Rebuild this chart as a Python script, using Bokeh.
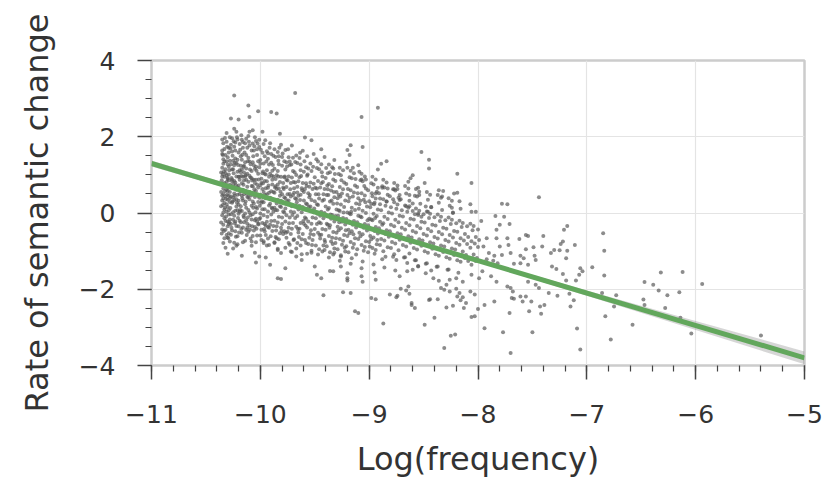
from bokeh.plotting import figure
from bokeh.models import SingleIntervalTicker, CustomJSTickFormatter
from bokeh.embed import file_html
from bokeh.resources import INLINE

# ---- data: (log frequency, rate of semantic change) ----
core_01 = [(-10.35,1.64),(-10.34,1.41),(-10.35,1.19),(-10.33,0.95),(-10.35,0.77),(-10.34,0.49),(-10.35,0.33),(-10.33,0.09),(-10.35,-0.06),(-10.34,-0.31),(-10.35,-0.43),(-10.33,-0.66),
           (-10.34,1.83),(-10.32,1.52),(-10.31,1.36),(-10.32,1.05),(-10.30,0.89),(-10.31,0.61),(-10.32,0.44),(-10.30,0.16),(-10.31,0.03),(-10.32,-0.21),(-10.30,-0.35),(-10.31,-0.58),
           (-10.29,1.71),(-10.28,1.37),(-10.29,1.21),(-10.30,0.92),(-10.28,0.74),(-10.29,0.45),(-10.28,0.29),(-10.29,0.07),(-10.28,-0.17),(-10.29,-0.29),(-10.28,-0.75),
           (-10.36,1.06),(-10.36,0.55),(-10.36,0.18),(-10.36,-0.25),(-10.35,1.93),(-10.33,1.68),(-10.34,1.29),(-10.33,0.79),(-10.34,0.38),(-10.33,-0.14),(-10.32,-0.91),(-10.31,1.87),
           (-10.30,1.46),(-10.31,0.99),(-10.30,0.58),(-10.31,0.23),(-10.30,-0.22),(-10.29,0.86),(-10.28,1.99),(-10.29,1.59),(-10.28,0.55),(-10.29,-0.04),(-10.28,0.39),(-10.29,-0.53),
           (-10.35,0.96),(-10.34,0.64),(-10.35,0.46),(-10.34,0.01),(-10.33,1.35),(-10.32,1.15),(-10.33,0.26),(-10.32,-0.44),(-10.35,1.55),(-10.32,0.72),(-10.30,1.27),(-10.31,0.81),
           (-10.29,1.01),(-10.30,0.35),(-10.34,-0.79),(-10.30,-0.64)]
core_02 = [(-10.27,1.79),(-10.26,1.61),(-10.27,1.28),(-10.25,1.15),(-10.26,0.88),(-10.27,0.69),(-10.25,0.41),(-10.26,0.27),(-10.27,-0.03),(-10.25,-0.18),(-10.26,-0.46),(-10.27,-0.57),
           (-10.24,1.74),(-10.23,1.43),(-10.24,1.25),(-10.22,0.96),(-10.23,0.80),(-10.24,0.51),(-10.22,0.36),(-10.23,0.06),(-10.24,-0.07),(-10.22,-0.34),(-10.23,-0.48),(-10.24,-0.78),
           (-10.21,1.93),(-10.20,1.59),(-10.21,1.40),(-10.19,1.12),(-10.20,0.95),(-10.21,0.67),(-10.19,0.50),(-10.20,0.22),(-10.21,0.07),(-10.19,-0.20),(-10.20,-0.35),(-10.21,-0.61),
           (-10.18,1.49),(-10.18,1.07),(-10.18,0.58),(-10.18,0.18),(-10.18,-0.24),(-10.26,1.96),(-10.25,1.37),(-10.26,0.83),(-10.25,0.02),(-10.27,-0.29),(-10.23,1.85),(-10.22,1.31),
           (-10.24,0.84),(-10.22,0.61),(-10.23,-0.22),(-10.21,1.08),(-10.20,0.32),(-10.19,1.81),(-10.20,-0.02),(-10.21,-0.82),(-10.19,0.87),(-10.25,0.75),(-10.27,0.43),(-10.22,0.17),
           (-10.18,1.24),(-10.26,1.14),(-10.24,0.34),(-10.20,0.72),(-10.25,-0.93),(-10.19,0.03),(-10.23,1.64),(-10.21,0.48)]
core_03 = [(-10.17,1.92),(-10.16,1.71),(-10.17,1.40),(-10.15,1.24),(-10.16,0.95),(-10.17,0.78),(-10.15,0.49),(-10.16,0.33),(-10.17,0.05),(-10.15,-0.11),(-10.16,-0.38),(-10.17,-0.52),
           (-10.14,1.83),(-10.13,1.52),(-10.14,1.33),(-10.12,1.03),(-10.13,0.87),(-10.14,0.58),(-10.12,0.42),(-10.13,0.14),(-10.14,-0.01),(-10.12,-0.28),(-10.13,-0.44),(-10.14,-0.73),
           (-10.11,2.02),(-10.10,1.77),(-10.11,1.45),(-10.09,1.28),(-10.10,0.98),(-10.11,0.82),(-10.09,0.53),(-10.10,0.36),(-10.11,0.08),(-10.09,-0.06),(-10.10,-0.33),(-10.11,-0.49),
           (-10.08,1.64),(-10.08,1.10),(-10.08,0.71),(-10.08,0.19),(-10.08,-0.17),(-10.16,1.86),(-10.15,1.06),(-10.17,0.45),(-10.15,-0.24),(-10.13,1.95),(-10.12,0.69),(-10.14,0.96),
           (-10.13,-0.19),(-10.10,1.35),(-10.09,0.93),(-10.11,0.42),(-10.10,0.01),(-10.16,0.61),(-10.14,0.23),(-10.12,1.71),(-10.09,-0.67),(-10.16,-0.77),(-10.15,0.85),(-10.10,0.55),
           (-10.13,1.17),(-10.08,0.91),(-10.17,1.14),(-10.12,-0.39)]
core_04 = [(-10.07,1.82),(-10.06,1.64),(-10.07,1.33),(-10.05,1.16),(-10.06,0.87),(-10.07,0.70),(-10.05,0.42),(-10.06,0.25),(-10.07,-0.03),(-10.05,-0.19),(-10.06,-0.46),(-10.07,-0.60),
           (-10.04,1.89),(-10.03,1.52),(-10.04,1.21),(-10.02,1.03),(-10.03,0.75),(-10.04,0.58),(-10.02,0.29),(-10.03,0.12),(-10.04,-0.15),(-10.02,-0.30),(-10.03,-0.59),(-10.04,-0.77),
           (-10.01,1.73),(-10.00,1.39),(-10.01,1.20),(-9.99,0.90),(-10.00,0.73),(-10.01,0.44),(-9.99,0.27),(-10.00,-0.01),(-10.01,-0.16),(-9.99,-0.44),(-10.00,-0.59),
           (-9.98,1.58),(-9.98,1.04),(-9.98,0.63),(-9.98,0.10),(-9.98,-0.26),(-10.06,1.25),(-10.05,0.79),(-10.07,0.30),(-10.05,-0.37),(-10.03,1.67),(-10.02,0.67),(-10.04,0.87),
           (-10.03,-0.22),(-10.00,1.29),(-9.99,0.79),(-10.01,0.40),(-10.00,-0.13),(-10.06,0.54),(-10.02,1.36),(-9.99,-0.71),(-10.05,1.99),(-10.01,1.92),(-10.04,0.16),(-10.00,0.48)]
core_05 = [(-9.97,1.81),(-9.96,1.49),(-9.97,1.30),(-9.95,1.01),(-9.96,0.84),(-9.97,0.55),(-9.95,0.39),(-9.96,0.10),(-9.97,-0.06),(-9.95,-0.33),(-9.96,-0.48),(-9.97,-0.74),
           (-9.94,1.62),(-9.93,1.42),(-9.94,1.12),(-9.92,0.95),(-9.93,0.66),(-9.94,0.49),(-9.92,0.20),(-9.93,0.04),(-9.94,-0.23),(-9.92,-0.39),(-9.93,-0.67),(-9.94,-0.85),
           (-9.91,1.83),(-9.90,1.32),(-9.91,1.03),(-9.89,0.87),(-9.90,0.57),(-9.91,0.40),(-9.89,0.12),(-9.90,-0.04),(-9.91,-0.31),(-9.89,-0.47),
           (-9.88,1.50),(-9.88,0.96),(-9.88,0.55),(-9.88,0.03),(-9.88,-0.34),(-9.96,1.03),(-9.95,0.65),(-9.97,0.28),(-9.95,-0.58),(-9.93,1.57),(-9.92,0.53),(-9.94,0.83),
           (-9.93,-0.37),(-9.90,1.55),(-9.89,0.75),(-9.91,0.24),(-9.90,-0.21),(-9.92,1.27),(-9.96,-0.29),(-9.89,1.11)]
core_06 = [(-9.87,1.67),(-9.86,1.47),(-9.87,1.16),(-9.85,0.99),(-9.86,0.70),(-9.87,0.53),(-9.85,0.25),(-9.86,0.08),(-9.87,-0.20),(-9.85,-0.35),(-9.86,-0.63),(-9.87,-0.77),
           (-9.84,1.60),(-9.83,1.28),(-9.84,1.10),(-9.82,0.81),(-9.83,0.64),(-9.84,0.35),(-9.82,0.18),(-9.83,-0.10),(-9.84,-0.25),(-9.82,-0.53),(-9.83,-0.69),(-9.84,-0.94),
           (-9.81,1.79),(-9.80,1.24),(-9.81,0.95),(-9.79,0.79),(-9.80,0.49),(-9.81,0.32),(-9.79,0.04),(-9.80,-0.12),(-9.81,-0.39),(-9.79,-0.55),
           (-9.78,1.36),(-9.78,0.94),(-9.78,0.41),(-9.78,0.01),(-9.78,-0.48),(-9.86,0.89),(-9.85,0.63),(-9.87,0.14),(-9.85,-0.66),(-9.83,1.49),(-9.82,0.45),(-9.84,0.75),
           (-9.80,1.47),(-9.79,0.67),(-9.81,0.16),(-9.80,-0.29)]
core_07 = [(-9.77,1.65),(-9.76,1.33),(-9.77,1.14),(-9.75,0.85),(-9.76,0.68),(-9.77,0.39),(-9.75,0.23),(-9.76,-0.06),(-9.77,-0.22),(-9.75,-0.49),(-9.76,-0.65),(-9.77,-0.91),
           (-9.74,1.46),(-9.73,1.26),(-9.74,0.96),(-9.72,0.79),(-9.73,0.50),(-9.74,0.33),(-9.72,0.04),(-9.73,-0.12),(-9.74,-0.39),(-9.72,-0.55),(-9.73,-0.83),
           (-9.71,1.77),(-9.70,1.10),(-9.71,0.93),(-9.69,0.65),(-9.70,0.47),(-9.71,0.18),(-9.69,0.02),(-9.70,-0.26),(-9.71,-0.41),(-9.69,-0.69),
           (-9.68,1.34),(-9.68,0.80),(-9.68,0.39),(-9.68,-0.13),(-9.76,0.87),(-9.75,0.49),(-9.77,0.12),(-9.73,1.35),(-9.72,0.43),(-9.70,1.45),(-9.69,0.53),(-9.71,-1.02)]
core_08 = [(-9.67,1.51),(-9.66,1.31),(-9.67,1.00),(-9.65,0.83),(-9.66,0.54),(-9.67,0.37),(-9.65,0.09),(-9.66,-0.08),(-9.67,-0.36),(-9.65,-0.51),(-9.66,-0.79),(-9.67,-0.93),
           (-9.64,1.44),(-9.63,1.12),(-9.64,0.94),(-9.62,0.65),(-9.63,0.48),(-9.64,0.19),(-9.62,0.02),(-9.63,-0.26),(-9.64,-0.41),(-9.62,-0.69),(-9.63,-0.85),
           (-9.61,1.63),(-9.60,1.08),(-9.61,0.79),(-9.59,0.63),(-9.60,0.33),(-9.61,0.16),(-9.59,-0.12),(-9.60,-0.28),(-9.61,-0.55),(-9.59,-0.71),
           (-9.58,1.20),(-9.58,0.78),(-9.58,0.25),(-9.58,-0.15),(-9.66,0.69),(-9.65,0.45),(-9.63,1.27),(-9.60,0.55),(-9.62,-1.08)]
core_09 = [(-9.57,1.49),(-9.56,1.17),(-9.57,0.98),(-9.55,0.69),(-9.56,0.52),(-9.57,0.23),(-9.55,0.07),(-9.56,-0.22),(-9.57,-0.38),(-9.55,-0.65),(-9.56,-0.81),(-9.57,-1.07),
           (-9.54,1.30),(-9.53,1.10),(-9.54,0.80),(-9.52,0.63),(-9.53,0.34),(-9.54,0.17),(-9.52,-0.12),(-9.53,-0.28),(-9.54,-0.55),(-9.52,-0.71),(-9.53,-0.99),
           (-9.51,1.55),(-9.50,0.94),(-9.51,0.77),(-9.49,0.49),(-9.50,0.31),(-9.51,0.02),(-9.49,-0.14),(-9.50,-0.42),(-9.51,-0.57),(-9.49,-0.85),
           (-9.48,1.18),(-9.48,0.64),(-9.48,0.23),(-9.48,-0.29),(-9.55,0.41)]
core_10 = [(-9.47,1.35),(-9.46,1.15),(-9.47,0.84),(-9.45,0.67),(-9.46,0.38),(-9.47,0.21),(-9.45,-0.07),(-9.46,-0.24),(-9.47,-0.52),(-9.45,-0.67),(-9.46,-0.95),(-9.47,-1.09),
           (-9.44,1.28),(-9.43,0.96),(-9.44,0.78),(-9.42,0.49),(-9.43,0.32),(-9.44,0.03),(-9.42,-0.14),(-9.43,-0.42),(-9.44,-0.57),(-9.42,-0.85),(-9.43,-1.01),
           (-9.41,1.47),(-9.40,0.92),(-9.41,0.63),(-9.39,0.47),(-9.40,0.17),(-9.41,0.00),(-9.39,-0.28),(-9.40,-0.44),(-9.41,-0.71),(-9.39,-0.87),
           (-9.38,1.04),(-9.38,0.62),(-9.38,0.09),(-9.38,-0.31)]
core_11 = [(-9.37,1.27),(-9.36,1.07),(-9.37,0.76),(-9.35,0.59),(-9.36,0.30),(-9.37,0.13),(-9.35,-0.15),(-9.36,-0.32),(-9.37,-0.60),(-9.35,-0.75),(-9.36,-1.03),(-9.37,-1.17),
           (-9.34,1.20),(-9.33,0.88),(-9.34,0.70),(-9.32,0.41),(-9.33,0.24),(-9.34,-0.05),(-9.32,-0.22),(-9.33,-0.50),(-9.34,-0.65),(-9.32,-0.93),(-9.33,-1.09),
           (-9.31,0.84),(-9.30,0.55),(-9.29,0.39),(-9.30,0.09),(-9.31,-0.08),(-9.29,-0.36),(-9.30,-0.52),(-9.31,-0.79),(-9.29,-0.95),
           (-9.28,1.02),(-9.28,0.48),(-9.28,0.07),(-9.28,-0.45)]
core_12 = [(-9.27,1.19),(-9.26,0.99),(-9.27,0.68),(-9.25,0.51),(-9.26,0.22),(-9.27,0.05),(-9.25,-0.23),(-9.26,-0.40),(-9.27,-0.68),(-9.25,-0.83),(-9.26,-1.11),(-9.27,-1.25),
           (-9.24,1.12),(-9.23,0.80),(-9.24,0.62),(-9.22,0.33),(-9.23,0.16),(-9.24,-0.13),(-9.22,-0.30),(-9.23,-0.58),(-9.24,-0.73),(-9.22,-1.01),
           (-9.21,0.76),(-9.20,0.47),(-9.19,0.31),(-9.20,0.01),(-9.21,-0.16),(-9.19,-0.44),(-9.20,-0.60),(-9.21,-0.87),(-9.19,-1.03),
           (-9.18,0.94),(-9.18,0.40),(-9.18,-0.01),(-9.18,-0.53)]
core_13 = [(-9.17,1.11),(-9.16,0.91),(-9.17,0.60),(-9.15,0.43),(-9.16,0.14),(-9.17,-0.03),(-9.15,-0.31),(-9.16,-0.48),(-9.17,-0.76),(-9.15,-0.91),(-9.16,-1.19),(-9.17,-1.33),
           (-9.14,1.04),(-9.13,0.72),(-9.14,0.54),(-9.12,0.25),(-9.13,0.08),(-9.14,-0.21),(-9.12,-0.38),(-9.13,-0.66),(-9.14,-0.81),(-9.12,-1.09),
           (-9.11,0.68),(-9.10,0.39),(-9.09,0.23),(-9.10,-0.07),(-9.11,-0.24),(-9.09,-0.52),(-9.10,-0.68),(-9.11,-0.95),
           (-9.08,0.86),(-9.08,0.32),(-9.08,-0.09),(-9.08,-0.61)]
core_14 = [(-9.07,1.03),(-9.06,0.83),(-9.07,0.52),(-9.05,0.35),(-9.06,0.06),(-9.07,-0.11),(-9.05,-0.39),(-9.06,-0.56),(-9.07,-0.84),(-9.05,-0.99),(-9.06,-1.27),
           (-9.04,0.96),(-9.03,0.64),(-9.04,0.46),(-9.02,0.17),(-9.03,0.00),(-9.04,-0.29),(-9.02,-0.46),(-9.03,-0.74),(-9.04,-0.89),
           (-9.01,0.60),(-9.00,0.31),(-8.99,0.15),(-9.00,-0.15),(-9.01,-0.32),(-8.99,-0.60),(-9.00,-0.76),(-9.01,-1.03),
           (-8.98,0.78),(-8.98,0.24),(-8.98,-0.17),(-8.98,-0.69)]
core_15 = [(-8.97,0.95),(-8.96,0.75),(-8.97,0.44),(-8.95,0.27),(-8.96,-0.02),(-8.97,-0.19),(-8.95,-0.47),(-8.96,-0.64),(-8.97,-0.92),(-8.95,-1.07),(-8.96,-1.35),
           (-8.94,0.88),(-8.93,0.56),(-8.94,0.38),(-8.92,0.09),(-8.93,-0.08),(-8.94,-0.37),(-8.92,-0.54),(-8.93,-0.82),(-8.94,-0.97),
           (-8.91,0.52),(-8.90,0.23),(-8.89,0.07),(-8.90,-0.23),(-8.91,-0.40),(-8.89,-0.68),(-8.90,-0.84),(-8.88,0.70),(-8.88,-0.31),(-8.88,-1.21)]
core_16 = [(-8.87,0.87),(-8.86,0.67),(-8.87,0.36),(-8.85,0.19),(-8.86,-0.10),(-8.87,-0.27),(-8.85,-0.55),(-8.86,-0.72),(-8.87,-1.00),(-8.85,-1.15),(-8.86,-1.43),
           (-8.84,0.80),(-8.83,0.48),(-8.84,0.30),(-8.82,0.01),(-8.83,-0.16),(-8.84,-0.45),(-8.82,-0.62),(-8.83,-0.90),
           (-8.81,0.44),(-8.80,0.15),(-8.79,-0.01),(-8.80,-0.31),(-8.81,-0.48),(-8.79,-0.76),(-8.80,-0.92),(-8.78,0.62),(-8.78,-1.15)]
core_17 = [(-8.77,0.79),(-8.76,0.59),(-8.77,0.28),(-8.75,0.11),(-8.76,-0.18),(-8.77,-0.35),(-8.75,-0.63),(-8.76,-0.80),(-8.77,-1.08),(-8.75,-1.23),(-8.76,-1.51),
           (-8.74,0.72),(-8.73,0.40),(-8.74,0.22),(-8.72,-0.07),(-8.73,-0.24),(-8.74,-0.53),(-8.72,-0.70),(-8.73,-0.98),
           (-8.71,0.36),(-8.70,0.07),(-8.69,-0.09),(-8.70,-0.39),(-8.71,-0.56),(-8.69,-0.84),(-8.68,-1.17)]
core_18 = [(-8.67,0.71),(-8.66,0.51),(-8.67,0.20),(-8.65,0.03),(-8.66,-0.26),(-8.67,-0.43),(-8.65,-0.71),(-8.66,-0.88),(-8.67,-1.16),(-8.65,-1.31),
           (-8.64,0.64),(-8.63,0.32),(-8.64,0.14),(-8.62,-0.15),(-8.63,-0.32),(-8.64,-0.61),(-8.62,-0.78),(-8.63,-1.06),
           (-8.60,0.05),(-8.59,-0.17),(-8.60,-0.47),(-8.61,-0.64),(-8.59,-0.92),(-8.58,-1.24)]
core_19 = [(-8.57,0.63),(-8.56,0.43),(-8.57,0.12),(-8.55,-0.05),(-8.56,-0.34),(-8.57,-0.51),(-8.55,-0.79),(-8.56,-0.96),(-8.57,-1.24),(-8.55,-1.39),
           (-8.54,0.56),(-8.53,0.24),(-8.54,0.06),(-8.52,-0.23),(-8.53,-0.40),(-8.54,-0.69),(-8.52,-0.86),
           (-8.50,-0.03),(-8.49,-0.25),(-8.50,-0.55),(-8.51,-0.72),(-8.49,-1.00),(-8.48,-1.33)]
core_20 = [(-8.47,0.55),(-8.46,0.35),(-8.47,0.04),(-8.45,-0.13),(-8.46,-0.42),(-8.47,-0.59),(-8.45,-0.87),(-8.46,-1.04),(-8.47,-1.32),
           (-8.44,0.48),(-8.43,0.16),(-8.44,-0.02),(-8.42,-0.31),(-8.43,-0.48),(-8.44,-0.77),(-8.42,-0.94),
           (-8.40,-0.11),(-8.39,-0.33),(-8.40,-0.63),(-8.41,-0.80),(-8.39,-1.08),(-8.38,-1.41)]
core_21 = [(-8.37,0.47),(-8.36,0.27),(-8.37,-0.04),(-8.35,-0.21),(-8.36,-0.50),(-8.37,-0.67),(-8.35,-0.95),(-8.36,-1.12),(-8.37,-1.40),
           (-8.34,0.40),(-8.33,0.08),(-8.34,-0.10),(-8.32,-0.39),(-8.33,-0.56),(-8.34,-0.85),(-8.32,-1.02),
           (-8.30,-0.19),(-8.29,-0.41),(-8.30,-0.71),(-8.31,-0.88),(-8.29,-1.16),(-8.28,-1.49)]
core_22 = [(-8.27,0.39),(-8.26,0.19),(-8.27,-0.12),(-8.25,-0.29),(-8.26,-0.58),(-8.27,-0.75),(-8.25,-1.03),(-8.26,-1.20),(-8.27,-1.48),
           (-8.24,0.32),(-8.23,0.00),(-8.24,-0.18),(-8.22,-0.47),(-8.23,-0.64),(-8.24,-0.93),(-8.22,-1.10),
           (-8.20,-0.27),(-8.19,-0.49),(-8.20,-0.79),(-8.21,-0.96),(-8.19,-1.24),(-8.18,-1.57)]
core_23 = [(-8.17,0.31),(-8.16,0.11),(-8.17,-0.20),(-8.15,-0.37),(-8.16,-0.66),(-8.17,-0.83),(-8.15,-1.11),(-8.16,-1.28),
           (-8.14,-0.26),(-8.12,-0.55),(-8.13,-0.72),(-8.14,-1.01),(-8.12,-1.18),(-8.10,-0.35),(-8.09,-0.63),(-8.10,-0.81),(-8.11,-1.10),(-8.09,-1.26)]
core_24 = [(-8.07,0.23),(-8.06,0.03),(-8.07,-0.28),(-8.05,-0.45),(-8.06,-0.74),(-8.07,-0.91),(-8.05,-1.19),(-8.06,-1.36),
           (-8.04,-0.34),(-8.02,-0.63),(-8.03,-0.80),(-8.04,-1.09),(-8.02,-1.26),(-8.00,-0.43),(-7.99,-0.71),(-8.00,-0.89),(-8.01,-1.18)]

# extra points filling the densest part of the cloud
fill_01 = [(-10.345,1.52),(-10.335,1.09),(-10.355,0.86),(-10.325,0.57),(-10.345,0.21),(-10.315,-0.09),(-10.355,-0.54),(-10.305,1.74),
           (-10.285,1.12),(-10.295,0.67),(-10.275,0.13),(-10.265,-0.39),(-10.325,1.97),(-10.255,1.50),(-10.305,0.48),(-10.285,-0.24),
           (-10.345,1.02),(-10.265,0.92),(-10.315,0.37),(-10.275,1.69),(-10.335,-0.47),(-10.255,0.30),(-10.295,-0.66),(-10.325,0.14)]
fill_02 = [(-10.245,1.88),(-10.235,1.32),(-10.225,0.73),(-10.215,0.27),(-10.205,-0.13),(-10.195,-0.51),(-10.185,1.66),(-10.175,0.97),
           (-10.165,0.39),(-10.155,-0.07),(-10.245,1.04),(-10.235,0.45),(-10.225,-0.62),(-10.205,1.26),(-10.195,0.62),(-10.185,0.08),
           (-10.175,-0.42),(-10.165,1.53),(-10.155,0.74),(-10.215,1.99),(-10.235,-0.27),(-10.175,2.04),(-10.195,0.95),(-10.155,1.21)]
fill_03 = [(-10.145,1.59),(-10.135,0.99),(-10.125,0.51),(-10.115,-0.12),(-10.105,1.87),(-10.095,1.14),(-10.085,0.46),(-10.075,-0.35),
           (-10.065,1.49),(-10.055,0.62),(-10.045,0.02),(-10.035,-0.41),(-10.025,1.82),(-10.015,0.88),(-10.005,0.19),(-10.135,0.30),
           (-10.115,1.36),(-10.095,-0.44),(-10.075,0.85),(-10.055,1.75),(-10.035,1.11),(-10.015,-0.28),(-10.125,-0.58),(-10.065,0.14)]
fill_04 = [(-9.995,1.66),(-9.975,1.09),(-9.955,0.47),(-9.935,-0.10),(-9.915,1.71),(-9.895,0.98),(-9.875,0.34),(-9.855,-0.46),
           (-9.835,1.37),(-9.815,0.56),(-9.985,0.31),(-9.965,-0.42),(-9.945,1.35),(-9.925,0.72),(-9.905,-0.61),(-9.885,1.26),
           (-9.865,0.67),(-9.845,0.07),(-9.825,1.71),(-9.805,-0.47),(-9.955,1.91),(-9.895,0.14),(-9.835,0.96),(-9.975,0.78)]
fill_05 = [(-9.795,1.56),(-9.775,0.96),(-9.755,0.31),(-9.735,-0.27),(-9.715,1.27),(-9.695,0.81),(-9.675,0.17),(-9.655,-0.42),
           (-9.635,1.58),(-9.615,0.60),(-9.785,0.63),(-9.765,-0.52),(-9.745,1.67),(-9.725,0.62),(-9.705,-0.05),(-9.685,1.07),
           (-9.665,0.28),(-9.645,-0.63),(-9.625,0.97),(-9.605,-0.21),(-9.755,1.22),(-9.695,-0.71),(-9.635,0.34)]
fill_06 = [(-9.595,1.36),(-9.575,0.71),(-9.555,0.16),(-9.535,-0.45),(-9.515,1.21),(-9.495,0.66),(-9.475,-0.02),(-9.455,-0.58),
           (-9.435,1.07),(-9.415,0.35),(-9.585,-0.33),(-9.565,1.01),(-9.545,0.47),(-9.525,-0.84),(-9.505,0.12),(-9.485,1.41),
           (-9.465,0.49),(-9.445,-0.27),(-9.425,0.81),(-9.405,-0.76)]
fill_07 = [(-9.395,1.18),(-9.375,0.47),(-9.355,-0.04),(-9.335,-0.81),(-9.315,1.02),(-9.295,0.25),(-9.275,-0.24),(-9.255,0.86),
           (-9.235,0.01),(-9.215,-0.45),(-9.385,0.72),(-9.345,0.33),(-9.305,-0.66),(-9.265,0.43),(-9.225,-0.91),(-9.365,-0.39),
           (-9.325,0.55),(-9.285,-0.07)]
fill_08 = [(-9.195,0.63),(-9.165,0.03),(-9.145,-0.56),(-9.125,0.89),(-9.095,0.11),(-9.065,-0.35),(-9.045,0.71),(-9.015,-0.19),
           (-8.995,-0.88),(-8.975,0.52),(-8.945,-0.13),(-8.925,-0.71),(-9.185,-0.22),(-9.105,0.52),(-9.035,0.28),(-8.955,0.23)]

sparse_top = [(-10.24,3.08),(-9.68,3.15),(-8.92,2.76),(-9.07,2.52),(-10.11,2.82),(-10.02,2.67),(-10.27,2.48),(-10.20,2.45),(-10.10,2.52),
              (-9.90,2.65),(-9.85,2.61),(-8.52,1.60),(-8.45,1.40),(-8.45,1.17),(-8.19,1.03),(-8.06,0.79),(-8.84,1.36),(-8.89,1.29),
              (-9.06,1.73),(-9.17,1.78),(-9.59,1.98),(-9.53,1.91),(-9.44,1.67),(-9.32,1.39),(-10.31,2.10),(-10.24,2.21),(-10.22,2.13),
              (-10.10,2.13),(-10.07,2.17),(-9.98,2.13),(-9.82,2.08),(-9.21,1.34),(-9.33,1.17),(-8.92,1.14),(-9.10,1.25),(-9.15,1.19),
              (-9.20,1.19),(-9.09,1.08),(-9.20,1.65),(-9.18,1.52),(-8.60,0.99),(-8.62,0.91),(-8.64,0.82),(-8.49,0.79),(-9.07,0.88),
              (-9.03,0.88),(-8.92,0.66),(-8.88,0.66),(-8.83,0.64),(-8.77,0.62),(-8.74,0.63),(-8.55,0.66),(-8.63,0.47),(-8.58,0.45),
              (-8.54,0.47),(-8.36,0.60),(-8.32,0.58),(-8.33,0.43),(-8.22,0.51),(-8.19,0.53),(-8.24,0.14),(-8.23,0.01),(-8.02,0.03),
              (-8.66,0.18),(-8.63,0.18),(-8.60,0.25),(-8.48,0.17),(-8.43,0.15),(-8.46,0.03),(-8.55,-0.01),(-8.52,-0.10),(-8.58,-0.03),
              (-8.72,0.47),(-8.72,0.34),(-8.78,0.36),(-8.84,0.30),(-8.90,0.38),(-8.94,0.51)]
sparse_low = [(-10.30,-1.07),(-10.17,-1.12),(-10.04,-1.30),(-9.84,-1.71),(-9.81,-1.73),(-9.77,-1.45),(-9.42,-2.16),(-9.24,-2.08),(-9.17,-2.10),
              (-9.13,-2.58),(-9.10,-2.62),(-8.98,-2.23),(-8.94,-2.26),(-8.87,-2.90),(-8.74,-2.17),(-8.49,-2.93),(-8.40,-2.75),(-8.31,-3.54),
              (-8.25,-3.22),(-8.21,-3.19),(-8.03,-2.71),(-8.29,-2.48),(-8.23,-2.43),(-8.13,-2.49),(-8.19,-2.19),(-8.61,-2.41),(-8.58,-2.49),
              (-8.44,-2.26),(-8.64,-1.93),(-10.22,-0.86),(-10.08,-0.86),(-10.08,-0.75),(-10.05,-1.04),(-10.01,-1.14),(-9.95,-1.17),(-9.91,-1.36),
              (-9.97,-0.79),(-9.92,-0.84),(-9.87,-0.79),(-9.84,-0.97),(-9.81,-1.05),(-9.74,-0.79),(-9.72,-1.01),(-9.67,-1.14),(-9.62,-1.23),
              (-9.50,-1.40),(-9.48,-1.62),(-9.44,-1.71),(-9.36,-1.52),(-9.33,-1.53),(-9.26,-1.40),(-9.20,-1.71),(-9.20,-1.77),(-9.58,-0.79),
              (-9.53,-1.04),(-9.41,-0.97),(-9.32,-1.04),(-9.26,-1.14),(-8.81,-2.14),(-8.75,-2.21),(-8.71,-1.99),(-8.66,-2.03),(-8.63,-2.12),
              (-8.61,-2.36),(-8.45,-2.28),(-8.37,-2.26),(-8.14,-2.21),(-8.16,-2.29),(-8.11,-2.36),(-8.06,-2.73),(-8.00,-2.52),(-8.34,-1.97),
              (-8.31,-2.01),(-8.26,-2.06),(-8.20,-1.99),(-8.17,-2.10),(-8.07,-2.06),(-8.03,-2.14),(-9.07,-1.45),(-8.95,-1.56),(-9.06,-1.80),
              (-8.94,-1.75),(-9.07,-1.66),(-8.72,-1.66),(-8.65,-1.53),(-8.60,-1.49),(-8.55,-1.40),(-8.48,-1.58),(-8.43,-1.51),(-8.41,-1.71),
              (-8.36,-1.78),(-8.29,-1.88),(-8.26,-1.75),(-8.20,-1.71),(-8.14,-1.80),(-8.06,-1.62),(-7.99,-1.71),(-7.96,-1.53),(-9.20,-1.58)]
sparse_right = [(-7.44,0.41),(-7.78,0.24),(-7.73,0.23),(-7.84,-0.08),(-7.76,-0.10),(-7.97,-0.21),(-7.80,-0.31),(-7.83,-0.44),(-7.71,-0.29),
                (-7.18,-0.34),(-7.21,-0.44),(-6.85,-0.53),(-6.84,-0.99),(-6.84,-1.64),(-6.95,-1.42),(-7.92,-0.66),(-7.83,-0.66),(-7.73,-0.66),
                (-7.62,-0.68),(-7.56,-0.58),(-7.54,-0.60),(-7.40,-0.60),(-7.22,-0.75),(-7.24,-0.81),(-7.11,-0.84),(-7.95,-0.88),(-7.80,-0.88),
                (-7.72,-0.84),(-7.56,-0.95),(-7.49,-0.90),(-7.41,-0.88),(-7.30,-0.97),(-7.25,-0.98),(-7.18,-0.99),(-7.90,-1.05),(-7.85,-1.12),
                (-7.78,-1.10),(-7.70,-1.05),(-7.61,-1.12),(-7.58,-1.19),(-7.48,-1.12),(-7.47,-1.23),(-7.33,-1.05),(-7.19,-1.19),(-7.92,-1.21),
                (-7.86,-1.25),(-7.82,-1.32),(-7.67,-1.33),(-7.61,-1.32),(-7.54,-1.36),(-7.32,-1.40),(-7.28,-1.47),(-7.06,-1.45),(-7.04,-1.53),
                (-7.07,-1.62),(-7.88,-1.66),(-7.83,-1.80),(-7.54,-1.80),(-7.47,-1.88),(-7.22,-1.60),(-7.19,-1.77),(-7.10,-1.77),(-7.73,-1.93),
                (-7.70,-1.97),(-7.68,-2.06),(-7.69,-2.23),(-7.67,-2.25),(-7.61,-2.19),(-7.56,-2.19),(-7.44,-1.97),(-7.35,-2.10),(-7.27,-2.17),
                (-7.16,-2.12),(-7.59,-2.32),(-7.51,-2.32),(-7.39,-2.41),(-7.43,-2.45),(-7.94,-2.41),(-7.85,-2.32),(-7.15,-2.45),(-7.12,-2.29),
                (-6.86,-2.10),(-6.73,-2.16),(-6.75,-2.45),(-7.71,-2.62),(-7.53,-2.58),(-7.42,-2.64),(-6.83,-2.71),(-6.58,-2.93),(-7.94,-3.02),
                (-7.77,-3.13),(-7.50,-3.13),(-7.09,-3.03),(-6.78,-3.32),(-7.06,-3.58),(-7.70,-3.67),(-6.47,-1.81),(-6.39,-1.88),(-6.32,-1.56),
                (-6.12,-1.55),(-5.94,-1.86),(-6.34,-2.03),(-6.26,-2.16),(-6.15,-2.08),(-6.48,-2.27),(-6.47,-2.41),(-6.28,-2.49),(-6.14,-2.75),
                (-6.04,-3.16),(-5.40,-3.21)]

# regression line and its confidence band
fit_x = [-11.0, -5.0]
fit_y = [1.30, -3.80]
ci_x = [-11.0, -10.0, -9.0, -8.0, -7.0, -6.0, -5.0]
ci_upper = [1.38, 0.50, -0.37, -1.21, -2.03, -2.83, -3.63]
ci_lower = [1.22, 0.40, -0.43, -1.29, -2.17, -3.07, -3.97]

x_label = "Log(frequency)"
y_label = "Rate of semantic change"

groups = [core_01, core_02, core_03, core_04, core_05, core_06, core_07, core_08, core_09, core_10, core_11, core_12,
          core_13, core_14, core_15, core_16, core_17, core_18, core_19, core_20, core_21, core_22, core_23, core_24,
          fill_01, fill_02, fill_03, fill_04, fill_05, fill_06, fill_07, fill_08,
          sparse_top, sparse_low, sparse_right]
xs = [pt[0] for g in groups for pt in g]
ys = [pt[1] for g in groups for pt in g]

FONT = "DejaVu Sans"
TXT = "#333333"

p = figure(width=835, height=480, x_range=(-11, -5), y_range=(-4, 4),
           output_backend="svg", toolbar_location=None,
           min_border_left=151, min_border_right=31, min_border_top=60, min_border_bottom=115)
p.background_fill_color = "white"
p.border_fill_color = "white"
p.outline_line_color = "#cccccc"
p.outline_line_width = 2.5

p.scatter(xs, ys, size=4, fill_color="#555555", line_color=None, fill_alpha=0.68)
p.varea(x=ci_x, y1=ci_lower, y2=ci_upper, fill_color="#8a8a8a", fill_alpha=0.35)
p.line(fit_x, fit_y, line_color="#62a75c", line_width=5)

p.xaxis.ticker = SingleIntervalTicker(interval=1, num_minor_ticks=5)
p.yaxis.ticker = SingleIntervalTicker(interval=2, num_minor_ticks=4)
fmt = CustomJSTickFormatter(code="return (tick < 0 ? '\u2212' : '') + Math.abs(tick).toFixed(0);")
p.xaxis.formatter = fmt
p.yaxis.formatter = fmt

for g in (p.xgrid, p.ygrid):
    g.grid_line_color = "#e4e4e4"
    g.grid_line_width = 1.2

for ax in (p.xaxis, p.yaxis):
    ax.axis_line_color = None
    ax.major_tick_line_color = "#444444"
    ax.minor_tick_line_color = "#444444"
    ax.major_tick_line_width = 1.5
    ax.minor_tick_line_width = 1.2
    ax.major_tick_in = 0
    ax.major_tick_out = 14
    ax.minor_tick_in = 0
    ax.minor_tick_out = 6
    ax.major_label_text_font = FONT
    ax.major_label_text_font_size = "25px"
    ax.major_label_text_color = TXT
    ax.major_label_text_line_height = 1.0
    ax.axis_label_text_font = FONT
    ax.axis_label_text_font_size = "32px"
    ax.axis_label_text_font_style = "normal"
    ax.axis_label_text_color = TXT
    ax.axis_label_text_line_height = 1.0

p.xaxis.axis_label = x_label
p.yaxis.axis_label = y_label
p.xaxis.major_label_standoff = 25
p.yaxis.major_label_standoff = 22
p.xaxis.axis_label_standoff = 14
p.yaxis.axis_label_standoff = 20

with open("out.html", "w", encoding="utf-8") as f:
    f.write(file_html(p, INLINE))
